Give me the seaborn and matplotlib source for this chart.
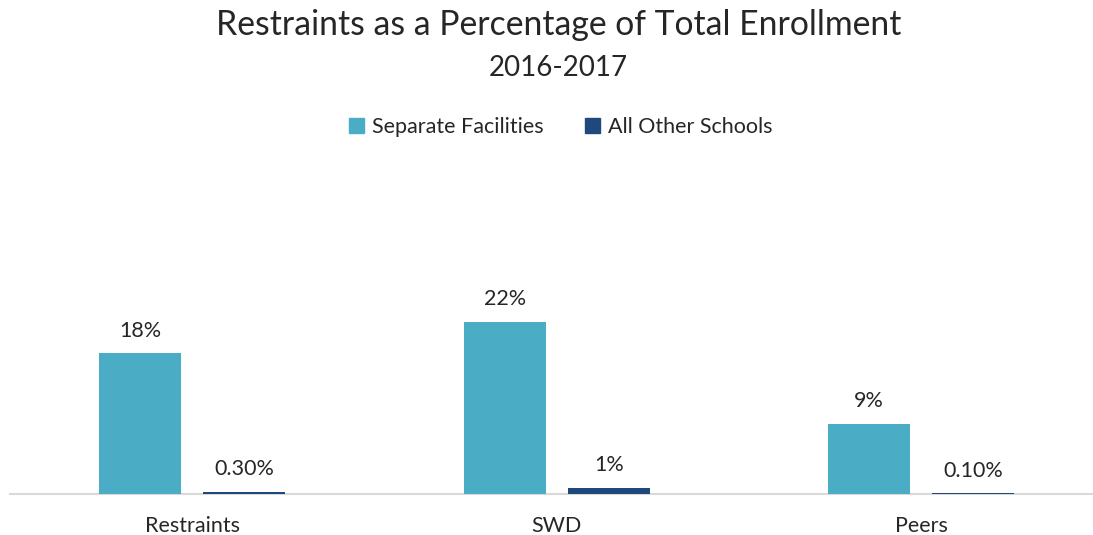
import matplotlib
matplotlib.use("Agg")
import matplotlib.pyplot as plt
import pandas as pd
import seaborn as sns

categories = ["Restraints", "SWD", "Peers"]
series = ["Separate Facilities", "All Other Schools"]
separate_vals = [18, 22, 9]
other_vals = [0.3, 0.8, 0.1]
separate_labels = ["18%", "22%", "9%"]
other_labels = ["0.30%", "1%", "0.10%"]
colors = ["#4BACC6", "#1F497D"]

df = pd.DataFrame({
    "category": categories * 2,
    "series": [series[0]] * 3 + [series[1]] * 3,
    "value": separate_vals + other_vals,
    "label": separate_labels + other_labels,
})

sns.set_theme(style="white")
plt.rcParams['font.family'] = ['Lato', 'DejaVu Sans']
text_col = "#262626"

fig = plt.figure(figsize=(10.93, 5.35), dpi=100)
# axes stops at the right edge of the figure, category spacing ~364.5 px
ax = fig.add_axes([10 / 1093, 41 / 535, 1083 / 1093, 330 / 535])

sns.barplot(data=df, x="category", y="value", hue="series", order=categories,
            hue_order=series, palette=colors, width=0.572, gap=0.213,
            saturation=1, linewidth=0, legend=False, ax=ax)

ax.set_xlim(-0.5, -0.5 + 1083 / 364.5)
ax.set_ylim(0, 330 / 7.82)
ax.set_xlabel("")
ax.set_ylabel("")
ax.set_yticks([])
for s in ["top", "right", "left"]:
    ax.spines[s].set_visible(False)
ax.spines["bottom"].set_color("#D9D9D9")
ax.spines["bottom"].set_linewidth(1.5)
ax.spines["bottom"].set_zorder(0)
ax.tick_params(axis="x", length=0, pad=16, labelsize=15.5, labelcolor=text_col)

for container, labels in zip(ax.containers, [separate_labels, other_labels]):
    ax.bar_label(container, labels=labels, padding=9, fontsize=15.5, color=text_col)

fig.text(0.511, 0.953, "Restraints as a Percentage of Total Enrollment",
         ha="center", va="center", fontsize=24.3, color=text_col)
fig.text(0.511, 0.873, "2016-2017", ha="center", va="center", fontsize=20,
         color=text_col)

handles = [plt.Rectangle((0, 0), 1, 1, color=c) for c in colors]
fig.legend(handles, series, loc="center", bbox_to_anchor=(0.513, 0.762), ncol=2,
           frameon=False, fontsize=15.5, handlelength=0.7, handleheight=0.7,
           handletextpad=0.4, columnspacing=1.9, labelcolor=text_col)

fig.savefig("out.png", dpi=100)
